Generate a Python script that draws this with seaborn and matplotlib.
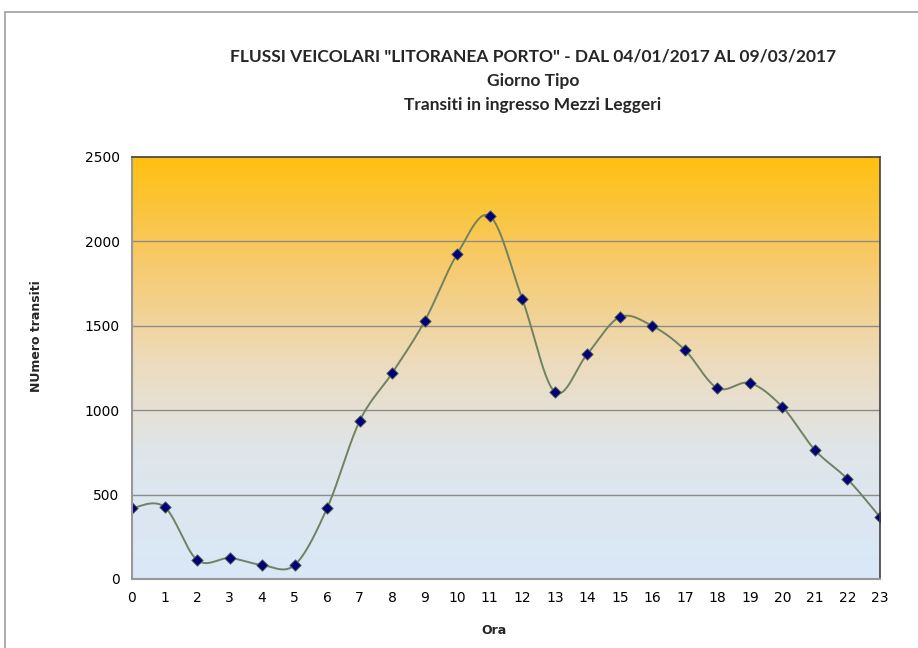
import numpy as np
import pandas as pd
import matplotlib
matplotlib.use("Agg")
import matplotlib.pyplot as plt
from matplotlib.colors import LinearSegmentedColormap
from matplotlib.patches import Rectangle
import seaborn as sns

# Hourly inbound light-vehicle transits (typical day)
hours = list(range(24))
transits = [420, 427, 113, 124, 83, 83, 420, 936, 1220, 1528, 1925, 2150,
            1659, 1108, 1333, 1552, 1499, 1357, 1131, 1161, 1019, 764, 592, 367]
y_ticks = [0, 500, 1000, 1500, 2000, 2500]

title_lines = ['FLUSSI VEICOLARI "LITORANEA PORTO" - DAL 04/01/2017 AL 09/03/2017',
               "Giorno Tipo",
               "Transiti in ingresso Mezzi Leggeri"]


def smooth_curve(x, y, steps=30):
    """Bezier smoothing through every point (control points from neighbours)."""
    x = np.asarray(x, float)
    y = np.asarray(y, float)
    px = np.concatenate([[x[0]], x, [x[-1]]])
    py = np.concatenate([[y[0]], y, [y[-1]]])
    xs, ys = [], []
    t = np.linspace(0, 1, steps)
    for i in range(1, len(px) - 2):
        p0 = np.array([px[i], py[i]])
        p3 = np.array([px[i + 1], py[i + 1]])
        c1 = p0 + (np.array([px[i + 1], py[i + 1]]) - np.array([px[i - 1], py[i - 1]])) / 6
        c2 = p3 - (np.array([px[i + 2], py[i + 2]]) - np.array([px[i], py[i]])) / 6
        b = ((1 - t) ** 3)[:, None] * p0 + (3 * (1 - t) ** 2 * t)[:, None] * c1 \
            + (3 * (1 - t) * t ** 2)[:, None] * c2 + (t ** 3)[:, None] * p3
        xs.extend(b[:, 0])
        ys.extend(b[:, 1])
    return np.array(xs), np.array(ys)


sns.set_style("white")
plt.rcParams["font.family"] = ["DejaVu Sans"]

fig = plt.figure(figsize=(9.18, 6.48), dpi=100)
ax = fig.add_axes([132 / 918, 1 - 579 / 648, (880 - 132) / 918, (579 - 157) / 648])

# outer chart frame
fig.patches.append(Rectangle((5 / 918, -0.05), 1.2, 1 - 12 / 648 + 0.05,
                             transform=fig.transFigure, fill=False,
                             edgecolor="#a0a0a0", linewidth=1.2))

# gradient plot background
grad = LinearSegmentedColormap.from_list(
    "bg", [(0.0, "#d9e8f8"), (0.30, "#dfe5ea"), (0.50, "#ecdcc0"),
           (0.75, "#f7ca6c"), (1.0, "#ffc00f")])
ax.imshow(np.linspace(0, 1, 256)[:, None], cmap=grad, origin="lower",
          extent=(0, 23, 0, 2500), aspect="auto", zorder=0)

df = pd.DataFrame({"Ora": hours, "Transiti": transits})
sx, sy = smooth_curve(df["Ora"], df["Transiti"])
sns.lineplot(x=sx, y=sy, ax=ax, color="#6f8262", linewidth=1.4, sort=False,
             zorder=3)
sns.scatterplot(data=df, x="Ora", y="Transiti", ax=ax, marker="D", s=34,
                color="#00007a", edgecolor="#5a6a50", linewidth=0.6, zorder=4)

ax.set_xlim(0, 23)
ax.set_ylim(0, 2500)
ax.set_xticks(hours)
ax.set_yticks(y_ticks)
ax.tick_params(axis="both", labelsize=10, colors="#000000")
ax.tick_params(axis="y", length=5, width=1, color="#999999", direction="out", pad=4)
ax.tick_params(axis="x", length=0, pad=9)
for g in y_ticks[1:-1]:
    ax.axhline(g, color="#8c8c8c", linewidth=1, zorder=1)

for side in ("top", "right"):
    ax.spines[side].set_color("#404040")
    ax.spines[side].set_linewidth(1.2)
for side in ("left", "bottom"):
    ax.spines[side].set_color("#999999")
    ax.spines[side].set_linewidth(1.5)
for s in ax.spines.values():
    s.set_visible(True)
    s.set_zorder(5)

ax.set_xlabel("Ora", fontsize=9, fontweight="bold")
ax.set_ylabel("NUmero transiti", fontsize=9, fontweight="bold")
ax.xaxis.set_label_coords((494 - 132) / 748, (579 - 630) / 422)
ax.xaxis.label.set_va("center")
ax.yaxis.set_label_coords((37 - 132) / 748, (579 - 336) / 422)
ax.yaxis.label.set_va("center")

for line, ypix in zip(title_lines, (56, 81, 105)):
    fig.text(533 / 918, 1 - ypix / 648, line, ha="center", va="center",
             fontsize=12.5, fontweight="bold", family=["Lato"])

fig.savefig("out.png", dpi=100)
